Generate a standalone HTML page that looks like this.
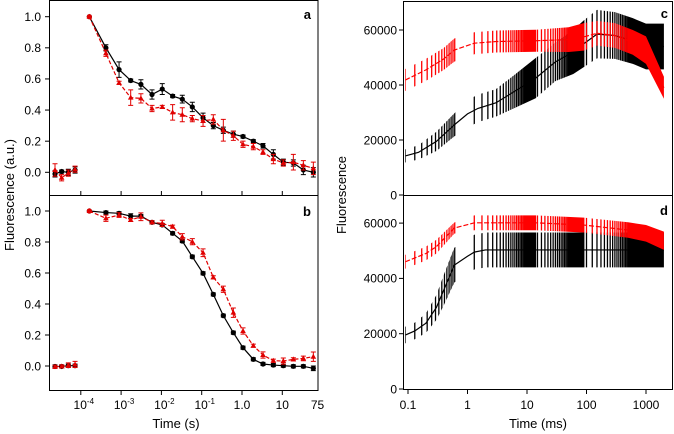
<!DOCTYPE html>
<html><head><meta charset="utf-8">
<style>
html,body{margin:0;padding:0;background:#fff;}
svg{display:block;font-family:"Liberation Sans",Arial,sans-serif;}
</style></head>
<body>
<svg id="chart" width="674" height="434" viewBox="0 0 674 434">
<defs></defs>
</svg>
<script>
// ---------- Left panels (a, b) data ----------
const leftTimes = [1.63e-4,4.2e-4,8.9e-4,1.73e-3,3.1e-3,5.85e-3,0.0105,0.019,0.033,0.0585,0.108,0.194,0.344,0.61,1.06,1.91,3.32,6.0,10.6,18.8,33.3,58.9];
const earlyTimes = [2.29e-5,3.35e-5,4.9e-5,7.2e-5];
const aBlack = [1.0,0.80,0.66,0.59,0.565,0.50,0.535,0.49,0.47,0.42,0.35,0.30,0.27,0.245,0.23,0.20,0.17,0.115,0.065,0.06,0.015,0.0];
const aBlackErr = [0,0.02,0.05,0.01,0.03,0.03,0.035,0.01,0.025,0.03,0.03,0.02,0.02,0.02,0.01,0.01,0.015,0.03,0.02,0.02,0.03,0.03];
const aRed = [1.0,0.765,0.575,0.48,0.475,0.41,0.42,0.385,0.37,0.345,0.33,0.34,0.27,0.235,0.18,0.165,0.13,0.085,0.06,0.065,0.045,0.025];
const aRedErr = [0,0.02,0.01,0.05,0.03,0.02,0.01,0.05,0.045,0.02,0.035,0.03,0.07,0.03,0.02,0.02,0.015,0.03,0.02,0.05,0.03,0.04];
const aBlackEarly = [-0.01,0.005,0.0,0.015];
const aBlackEarlyErr = [0.02,0.01,0.02,0.02];
const aRedEarly = [0.015,-0.035,-0.005,0.02];
const aRedEarlyErr = [0.04,0.02,0.02,0.02];
const bBlack = [1.0,0.99,0.985,0.967,0.967,0.927,0.91,0.856,0.806,0.705,0.598,0.462,0.325,0.215,0.118,0.043,0.013,0.006,0.002,-0.002,-0.002,-0.015];
const bBlackErr = [0,0.01,0.01,0.015,0.01,0.01,0.01,0.01,0.01,0.01,0.01,0.01,0.01,0.01,0.01,0.01,0.01,0.01,0.01,0.01,0.01,0.015];
const bRed = [1.0,0.953,0.974,0.942,0.963,0.927,0.92,0.899,0.834,0.802,0.731,0.572,0.495,0.344,0.226,0.131,0.071,0.034,0.032,0.043,0.049,0.06];
const bRedErr = [0,0.02,0.015,0.01,0.025,0.01,0.02,0.01,0.02,0.02,0.025,0.01,0.02,0.03,0.02,0.01,0.02,0.01,0.02,0.01,0.015,0.03];
const bBlackEarly = [-0.003,-0.003,0.002,0.002];
const bBlackEarlyErr = [0.01,0.01,0.01,0.01];
const bRedEarly = [-0.005,-0.003,0.005,0.01];
const bRedEarlyErr = [0.01,0.01,0.015,0.02];
const leftTickVals = [1e-4,1e-3,1e-2,1e-1,1,10,75];
const leftTickLabels = ["10","10","10","10","1.0","10","75"];
const leftTickSups = ["-4","-3","-2","-1","","",""];
const leftYTicks = [0,0.2,0.4,0.6,0.8,1.0];

// ---------- Right panels (c, d) data ----------
const cBlackT = [0.09,0.15,0.3,0.6,1.0,1.5,3,6,14,30,60,90,150,300,600,1000,2000];
const cBlackM = [14200,15500,19500,25500,29500,31500,33500,37500,42500,48400,52000,55000,58500,58000,56000,54000,54000];
const cBlackE = [2400,2600,3500,4200,5000,5000,5000,6000,7300,7000,8000,8500,8800,8500,8300,8300,8300];
const cRedT = [0.09,0.2,0.4,0.6,1.3,3,14,50,90,150,300,600,1000,2000];
const cRedM = [41800,45500,49500,52700,55200,55800,56100,56500,57500,58800,58000,55500,52700,39000];
const cRedE = [4000,4000,4000,4200,4000,4000,4000,4500,5000,4500,4500,4500,5000,4000];
const dBlackT = [0.09,0.13,0.2,0.3,0.4,0.6,1.0,1.3,2,2000];
const dBlackM = [19500,21000,23800,29500,35800,44800,48000,49500,50300,50300];
const dBlackE = [3000,3000,3500,4500,5500,6300,6300,6300,6300,6300];
const dRedT = [0.09,0.2,0.3,0.6,1.3,14,90,500,1000,2000];
const dRedM = [46000,49000,51500,58200,60100,60100,59300,57500,56300,53600];
const dRedE = [2500,2500,2500,2000,2700,2700,2700,2800,3000,3300];
const rightXTicks = [0.1,1,10,100,1000];
const rightXLabels = ["0.1","1","10","100","1000"];
const rightYTicks = [0,20000,40000,60000];
const rightYLabels = ["0","20000","40000","60000"];
// sampling segments (instrument acquisition windows)
const segStart = [0.09,1.3,15,100];
const segEnd = [0.61,14,90,2000];
const segStep = [0.04,0.45,2.5,25];

const NS = "http://www.w3.org/2000/svg";
const svg = document.getElementById("chart");
function mk(tag, attrs, parent){
  const e = document.createElementNS(NS, tag);
  for (const k in attrs) e.setAttribute(k, attrs[k]);
  (parent||svg).appendChild(e);
  return e;
}
// axes functions
const lx = t => 242 + 40.3*Math.log10(t);
const ayA = v => 172.3 - v*155.6;
const ayB = v => 366 - v*155;
const rx = t => 467.5 + 59.5*Math.log10(t);
const ryC = v => 195 - v/20000*55;
const ryD = v => 389 - v/20000*55.3;

function txt(x,y,s,opts,name){
  const e = mk("text",Object.assign({x:x,y:y,"font-size":12,fill:"#000"},opts||{}));
  e.textContent = s;
  
  
  return e;
}

// ---------- Left frames ----------
function frame(x,y,w,h,name){
  const r = mk("rect",{x:x,y:y,width:w,height:h,fill:"none",stroke:"#000","stroke-width":1});
  
  
}
frame(49.5,0.5,268.5,195,"panel-a-frame");
frame(49.5,195.5,268.5,195,"panel-b-frame");
frame(403.5,1.5,269,194,"panel-c-frame");
frame(403.5,195.5,269,194,"panel-d-frame");

// left y ticks
[[ayA,"a"],[ayB,"b"]].forEach(([fy,p])=>{
  leftYTicks.forEach(v=>{
    const y = fy(v);
    const t = mk("line",{x1:45,x2:49.5,y1:y,y2:y,stroke:"#000"});
    
    
    txt(41,y+4.3,v.toFixed(1),{"text-anchor":"end"},"y-tick-label-"+p);
  });
});
// left x ticks
leftTickVals.forEach((v,i)=>{
  const x = lx(v);
  if (i < leftTickVals.length-1) {
    const t = mk("line",{x1:x,x2:x,y1:390.5,y2:395,stroke:"#000"});
    
    
    const t2 = mk("line",{x1:x,x2:x,y1:195.5,y2:191,stroke:"#000"});
    
    
  }
  const e = txt(x,409,leftTickLabels[i],{"text-anchor":"middle","font-size":12},"x-tick-label");
  if (leftTickSups[i]) {
    const s = document.createElementNS(NS,"tspan");
    s.setAttribute("dy","-5"); s.setAttribute("font-size","8");
    s.textContent = leftTickSups[i];
    e.appendChild(s);
    e.setAttribute("x", x+3);
  }
});
txt(176,428,"Time (s)",{"text-anchor":"middle","font-size":13},"x-axis-title-left");
txt(0,0,"Fluorescence (a.u.)",{"text-anchor":"middle","font-size":13,transform:"translate(14,195) rotate(-90)"},"y-axis-title-left");
txt(311,19,"a",{"font-weight":"bold","font-size":13,"text-anchor":"end"},"panel-label-a");
txt(311,216,"b",{"font-weight":"bold","font-size":13,"text-anchor":"end"},"panel-label-b");

function series(times, vals, errs, fy, color, dashed, marker, name){
  const g = mk("g",{});
  
  
  const pts = times.map((t,i)=>lx(t).toFixed(2)+","+fy(vals[i]).toFixed(2)).join(" ");
  const pl = mk("polyline",{points:pts,fill:"none",stroke:color,"stroke-width":1.2,"stroke-dasharray":dashed?"4,2":"none"},g);
  
  
  times.forEach((t,i)=>{
    const x = lx(t), y = fy(vals[i]);
    if (errs[i] > 0) {
      const y1 = fy(vals[i]+errs[i]), y2 = fy(vals[i]-errs[i]);
      const eb = mk("path",{d:`M${x},${y1}V${y2}M${x-2.5},${y1}H${x+2.5}M${x-2.5},${y2}H${x+2.5}`,stroke:color,"stroke-width":1,fill:"none"},g);
      
      
    }
    let m;
    if (marker === "circle") m = mk("circle",{cx:x,cy:y,r:2.6,fill:color},g);
    else m = mk("path",{d:`M${x},${y-3}L${x+2.8},${y+2}L${x-2.8},${y+2}Z`,fill:color},g);
    
    
  });
}
series(leftTimes,aBlack,aBlackErr,ayA,"#000",false,"circle","panel-a-black-series");
series(earlyTimes,aBlackEarly,aBlackEarlyErr,ayA,"#000",false,"circle","panel-a-black-baseline");
series(leftTimes,aRed,aRedErr,ayA,"#e00000",true,"tri","panel-a-red-series");
series(earlyTimes,aRedEarly,aRedEarlyErr,ayA,"#e00000",true,"tri","panel-a-red-baseline");
series(leftTimes,bBlack,bBlackErr,ayB,"#000",false,"circle","panel-b-black-series");
series(earlyTimes,bBlackEarly,bBlackEarlyErr,ayB,"#000",false,"circle","panel-b-black-baseline");
series(leftTimes,bRed,bRedErr,ayB,"#e00000",true,"tri","panel-b-red-series");
series(earlyTimes,bRedEarly,bRedEarlyErr,ayB,"#e00000",true,"tri","panel-b-red-baseline");
// redraw first red point (circle) on top
[[ayA,aRed],[ayB,bRed]].forEach(([fy,arr])=>{
  const c = mk("circle",{cx:lx(leftTimes[0]),cy:fy(arr[0]),r:2.6,fill:"#e00000"});
  
  
});

// ---------- Right panels ----------
[[ryC,"c"],[ryD,"d"]].forEach(([fy,p])=>{
  rightYTicks.forEach((v,i)=>{
    const y = fy(v);
    const t = mk("line",{x1:399,x2:403.5,y1:y,y2:y,stroke:"#000"});
    
    
    txt(397,y+4.3,rightYLabels[i],{"text-anchor":"end"},"y-tick-label-"+p);
  });
});
rightXTicks.forEach((v,i)=>{
  const x = rx(v);
  const t = mk("line",{x1:x,x2:x,y1:389.5,y2:394,stroke:"#000"});
  
  
  txt(x,409,rightXLabels[i],{"text-anchor":"middle"},"x-tick-label-right");
});
txt(538,428,"Time (ms)",{"text-anchor":"middle","font-size":13},"x-axis-title-right");
txt(0,0,"Fluorescence",{"text-anchor":"middle","font-size":13,transform:"translate(346,195) rotate(-90)"},"y-axis-title-right");
txt(668,18,"c",{"font-weight":"bold","font-size":13,"text-anchor":"end"},"panel-label-c");
txt(668,215,"d",{"font-weight":"bold","font-size":13,"text-anchor":"end"},"panel-label-d");

const defs = svg.querySelector("defs");
let clipId = 0;
function bandSeries(T,M,E,fy,yTop,yBot,color,dashed,name){
  const g = mk("g",{});
  
  
  const up = T.map((t,i)=>rx(t).toFixed(2)+","+fy(M[i]+E[i]).toFixed(2));
  const lo = T.map((t,i)=>rx(t).toFixed(2)+","+fy(M[i]-E[i]).toFixed(2)).reverse();
  const id = "band"+(clipId++);
  const cp = mk("clipPath",{id:id},defs);
  mk("polygon",{points:up.concat(lo).join(" ")},cp);
  const bars = mk("g",{"clip-path":`url(#${id})`},g);
  
  
  let d = "";
  for (let s=0;s<segStart.length;s++){
    for (let t=segStart[s]; t<=segEnd[s]+1e-9; t+=segStep[s]){
      const x = rx(t);
      d += `M${x.toFixed(2)},${yTop}V${yBot}`;
    }
  }
  mk("path",{d:d,stroke:color,"stroke-width":1.3,fill:"none"},bars);
  const pts = T.map((t,i)=>rx(t).toFixed(2)+","+fy(M[i]).toFixed(2)).join(" ");
  const pl = mk("polyline",{points:pts,fill:"none",stroke:color,"stroke-width":1.2,"stroke-dasharray":dashed?"5,2":"none"},g);
  
  
}
bandSeries(cBlackT,cBlackM,cBlackE,ryC,2,195,"#000",false,"panel-c-black-series");
bandSeries(cRedT,cRedM,cRedE,ryC,2,195,"#ff0000",true,"panel-c-red-series");
bandSeries(dBlackT,dBlackM,dBlackE,ryD,196,389,"#000",false,"panel-d-black-series");
bandSeries(dRedT,dRedM,dRedE,ryD,196,389,"#ff0000",true,"panel-d-red-series");
</script>
</body></html>
